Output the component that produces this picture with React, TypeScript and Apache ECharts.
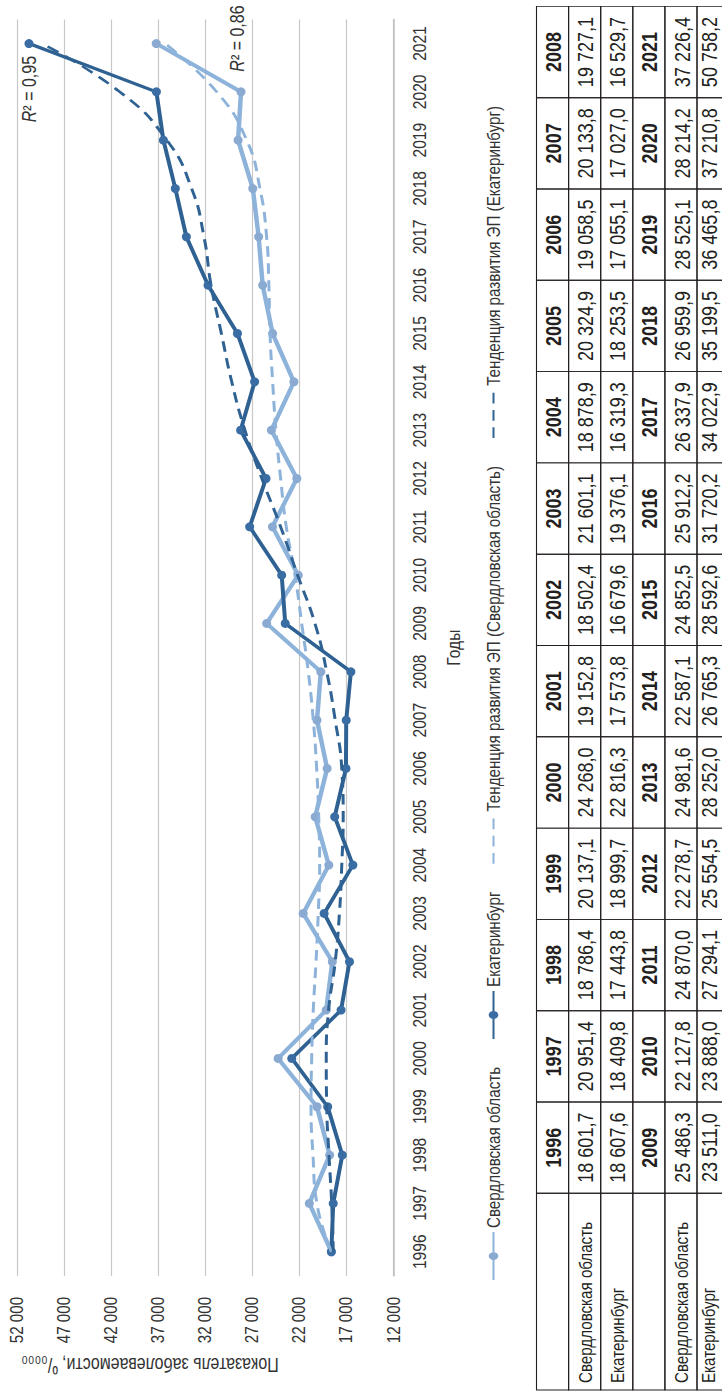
import React, { useEffect, useRef } from "react";
import * as echarts from "echarts";

const FONT = "'Liberation Sans', Arial, sans-serif";
// horizontal condensing factor (the page uses a condensed typeface)
const C = 0.82;

const years = ["1996","1997","1998","1999","2000","2001","2002","2003","2004","2005","2006","2007","2008","2009","2010","2011","2012","2013","2014","2015","2016","2017","2018","2019","2020","2021"];
const regionNames = ["Свердловская область", "Екатеринбург"];
const seriesNames = ["Свердловская область", "Екатеринбург", "Тенденция развития ЭП (Свердловская область)", "Тенденция развития ЭП (Екатеринбург)"];

const sverdlovsk = [18601.7, 20951.4, 18786.4, 20137.1, 24268.0, 19152.8, 18502.4, 21601.1, 18878.9, 20324.9, 19058.5, 20133.8, 19727.1, 25486.3, 22127.8, 24870.0, 22278.7, 24981.6, 22587.1, 24852.5, 25912.2, 26337.9, 26959.9, 28525.1, 28214.2, 37226.4];
const ekb = [18607.6, 18409.8, 17443.8, 18999.7, 22816.3, 17573.8, 16679.6, 19376.1, 16319.3, 18253.5, 17055.1, 17027.0, 16529.7, 23511.0, 23888.0, 27294.1, 25554.5, 28252.0, 26765.3, 28592.6, 31720.2, 34022.9, 35199.5, 36465.8, 37210.8, 50758.2];

// trend lines
const sverdlovskTrend = [18600, 20150, 20560, 20770, 20700, 20530, 20240, 20000, 19850, 19950, 20170, 20530, 21060, 21760, 22470, 23400, 24000, 24500, 24850, 25130, 25250, 25490, 26200, 27610, 30800, 36300];
const ekbTrend = [18400, 18570, 18860, 19100, 19150, 18900, 18200, 17750, 17500, 17350, 17500, 18200, 19100, 20350, 22200, 24000, 26000, 27800, 29200, 30300, 31400, 32150, 33460, 36100, 41100, 49400];

const r2Labels = ["0,86", "0,95"];
const axisTitle = "Показатель заболеваемости, ⁰/₀₀₀₀";
const xAxisTitle = "Годы";

const LIGHT = "#8DB3DB";
const LIGHT_M = "#8AAAD2";
const DARK = "#2F6293";
const DARK_M = "#3A6DA3";
const TXT = "#333333";
const INK = "#231f20";

function fmt(v: number): string {
  const [i, d] = v.toFixed(1).split(".");
  return i.replace(/\B(?=(\d{3})+(?!\d))/g, " ") + "," + d;
}

function buildTable(): any[] {
  const els: any[] = [];
  const left = 1 / C;
  const labelW = 196.7 / C;
  const colW = 91.3 / C;
  const top = 536.5;
  const rowH = 32.1;
  const rows: { head: boolean; label: string; cells: string[] }[] = [];
  for (let h = 0; h < 2; h++) {
    const s = h * 13;
    rows.push({ head: true, label: "", cells: years.slice(s, s + 13) });
    rows.push({ head: false, label: regionNames[0], cells: sverdlovsk.slice(s, s + 13).map(fmt) });
    rows.push({ head: false, label: regionNames[1], cells: ekb.slice(s, s + 13).map(fmt) });
  }
  rows.forEach((row, r) => {
    const y = top + r * rowH;
    // the last row is cut by the page edge; keep its text inside the page
    const ty = r === rows.length - 1 ? 709 : y + rowH / 2 + 1;
    els.push({ type: "rect", silent: true, shape: { x: left, y, width: labelW, height: rowH }, style: { fill: "none", stroke: INK, lineWidth: 1.1 } });
    if (row.label) {
      els.push({ type: "text", silent: true, style: { text: row.label, x: left + 7 / C, y: ty, align: "left", verticalAlign: "middle", fontFamily: FONT, fontSize: 18.5, fill: INK } });
    }
    row.cells.forEach((c, k) => {
      const x = left + labelW + k * colW;
      els.push({ type: "rect", silent: true, shape: { x, y, width: colW, height: rowH }, style: { fill: "none", stroke: INK, lineWidth: 1.1 } });
      els.push({ type: "text", silent: true, style: { text: c, x: x + colW / 2, y: ty, align: "center", verticalAlign: "middle", fontFamily: FONT, fontSize: 22, fontWeight: row.head ? "bold" : "normal", fill: INK } });
    });
  });
  return els;
}

const r2Rich = {
  i: { fontFamily: FONT, fontSize: 19.5, fontStyle: "italic", color: TXT },
  n: { fontFamily: FONT, fontSize: 19.5, color: TXT },
};

const hiddenSymbol = { color: "rgba(0,0,0,0)", borderColor: "rgba(0,0,0,0)", borderWidth: 0 };

export default function App() {
  const ref = useRef<HTMLDivElement>(null);
  useEffect(() => {
    const chart = echarts.init(ref.current!, null, { renderer: "svg" });
    const option: any = {
      animation: false,
      backgroundColor: "#ffffff",
      grid: { left: 115.1 / C, right: 19.1 / C, top: 17.3, bottom: 328.5, containLabel: false },
      legend: {
        left: 106 / C,
        top: 479,
        itemWidth: 48 / C,
        itemHeight: 12,
        itemGap: 27 / C,
        textStyle: { fontFamily: FONT, fontSize: 18.5, color: TXT },
        data: [
          { name: seriesNames[0] },
          { name: seriesNames[1] },
          { name: seriesNames[2], itemStyle: hiddenSymbol },
          { name: seriesNames[3], itemStyle: hiddenSymbol },
        ],
      },
      xAxis: {
        type: "category",
        data: years,
        boundaryGap: true,
        name: xAxisTitle,
        nameLocation: "middle",
        nameGap: 50,
        nameTextStyle: { fontFamily: FONT, fontSize: 19, color: TXT },
        axisLine: { lineStyle: { color: "#bfbfbf", width: 1.5 } },
        axisTick: { alignWithLabel: true, inside: true, length: 5, lineStyle: { color: "#bfbfbf" } },
        axisLabel: { interval: 0, margin: 16, fontFamily: FONT, fontSize: 19, color: TXT },
      },
      yAxis: {
        type: "value",
        min: 12000,
        max: 52000,
        interval: 5000,
        axisLine: { show: false },
        axisTick: { show: false },
        splitLine: { lineStyle: { color: "#c8c8c8", width: 1.2 } },
        axisLabel: {
          margin: 21 / C,
          fontFamily: FONT,
          fontSize: 18.5,
          color: TXT,
          formatter: (v: number) => `${v / 1000} 000`,
        },
      },
      graphic: [
        {
          type: "text",
          silent: true,
          x: 26 / C,
          y: 150,
          rotation: Math.PI / 2,
          scaleX: C,
          scaleY: 1 / C,
          style: { text: axisTitle, align: "center", verticalAlign: "middle", fontFamily: FONT, fontSize: 19.5, fill: TXT },
        },
        ...buildTable(),
      ],
      series: [
        {
          name: seriesNames[0],
          type: "line",
          data: sverdlovsk,
          symbol: "circle",
          symbolSize: [9 / C, 9],
          lineStyle: { color: LIGHT, width: 4.5 },
          itemStyle: { color: LIGHT_M },
          z: 2,
        },
        {
          name: seriesNames[1],
          type: "line",
          data: ekb,
          symbol: "circle",
          symbolSize: [9 / C, 9],
          lineStyle: { color: DARK, width: 4 },
          itemStyle: { color: DARK_M },
          z: 3,
        },
        {
          name: seriesNames[2],
          type: "line",
          data: sverdlovskTrend,
          symbol: "none",
          smooth: true,
          lineStyle: { color: LIGHT, width: 3, type: [13, 8] },
          itemStyle: { color: LIGHT },
          z: 4,
          markPoint: {
            silent: true,
            symbol: "circle",
            symbolSize: 1,
            itemStyle: { color: "rgba(0,0,0,0)" },
            label: { show: true, position: "inside", offset: [5 / C, 72], formatter: `{i|R}{n|² = ${r2Labels[0]}}`, rich: r2Rich },
            data: [{ coord: [years[years.length - 1], sverdlovskTrend[sverdlovskTrend.length - 1]] }],
          },
        },
        {
          name: seriesNames[3],
          type: "line",
          data: ekbTrend,
          symbol: "none",
          smooth: true,
          lineStyle: { color: DARK, width: 3, type: [13, 8] },
          itemStyle: { color: DARK },
          z: 5,
          markPoint: {
            silent: true,
            symbol: "circle",
            symbolSize: 1,
            itemStyle: { color: "rgba(0,0,0,0)" },
            label: { show: true, position: "left", distance: 12 / C, offset: [0, -12], formatter: `{i|R}{n|² = ${r2Labels[1]}}`, rich: r2Rich },
            data: [{ coord: [years[years.length - 1], ekbTrend[ekbTrend.length - 1]] }],
          },
        },
      ],
    };
    chart.setOption(option);
    return () => chart.dispose();
  }, []);
  return (
    <div style={{ position: "absolute", left: 0, top: 0, width: 722, height: 1391, overflow: "hidden", background: "#fff" }}>
      <div
        ref={ref}
        style={{
          position: "absolute",
          left: 0,
          top: 0,
          width: 1391 / C,
          height: 722,
          transformOrigin: "0 0",
          transform: `translate(0px, 1391px) rotate(-90deg) scale(${C}, 1)`,
        }}
      />
    </div>
  );
}
